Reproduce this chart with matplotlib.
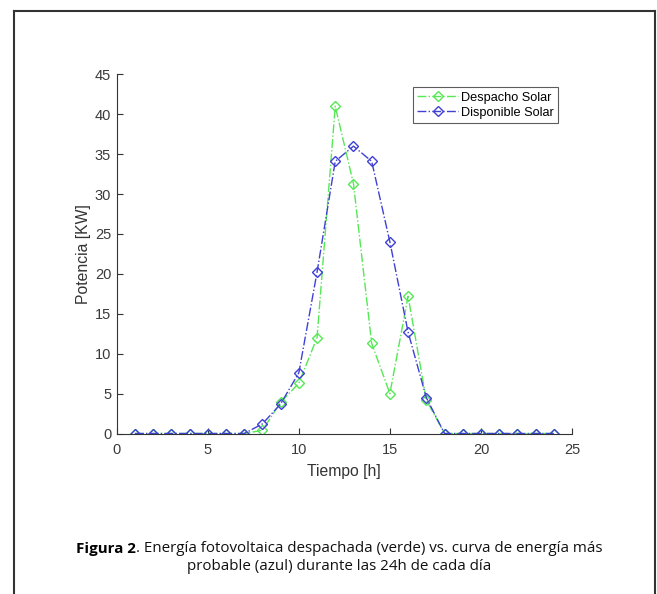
import matplotlib
matplotlib.use("Agg")
import matplotlib.pyplot as plt
from matplotlib.lines import Line2D
from matplotlib.offsetbox import TextArea, HPacker, AnchoredOffsetbox

hours = list(range(1, 25))
despacho = [0, 0, 0, 0, 0, 0, 0, 0.4, 3.9, 6.3, 12.0, 41.0, 31.3, 11.3, 5.0, 17.2, 4.2, 0, 0, 0, 0, 0, 0, 0]
disponible = [0, 0, 0, 0, 0, 0, 0, 1.2, 3.7, 7.6, 20.2, 34.1, 36.0, 34.1, 24.0, 12.7, 4.5, 0, 0, 0, 0, 0, 0, 0]
xticks = [0, 5, 10, 15, 20, 25]
yticks = [0, 5, 10, 15, 20, 25, 30, 35, 40, 45]

W, H = 657, 594
plt.rcParams['font.family'] = ['Liberation Sans', 'DejaVu Sans']
fig = plt.figure(figsize=(W / 100, H / 100), dpi=100)

ax = fig.add_axes([116.7 / W, 1 - 433.5 / H, (572 - 116.7) / W, (433.5 - 74.3) / H])
green = '#55e855'
blue = '#4040d4'
ax.plot(hours, despacho, linestyle='-.', color=green, marker='D', markersize=4.6,
        markerfacecolor='none', markeredgewidth=1.0, linewidth=1.0, label='Despacho Solar')
ax.plot(hours, disponible, linestyle='-.', color=blue, marker='D', markersize=4.6,
        markerfacecolor='none', markeredgewidth=1.0, linewidth=1.0, label='Disponible Solar')

ax.set_xlim(0, 25)
ax.set_ylim(0, 45)
ax.set_xticks(xticks)
ax.set_yticks(yticks)
ax.spines['top'].set_visible(False)
ax.spines['right'].set_visible(False)
for s in ('left', 'bottom'):
    ax.spines[s].set_color('#333333')
    ax.spines[s].set_linewidth(0.8)
ax.tick_params(direction='in', length=4, width=0.8, colors='#333333', labelsize=10.5,
               labelcolor='#3a3a3a')
ax.tick_params(axis='x', pad=7)
ax.tick_params(axis='y', pad=4)
ax.set_xlabel('Tiempo [h]', fontsize=11.3, color='#333333', labelpad=5)
ax.set_ylabel('Potencia [KW]', fontsize=11.3, color='#333333', labelpad=2.5)

leg = ax.legend(loc='upper right', bbox_to_anchor=(1 - 14 / 455.3, 1 - 13 / 359.2), fontsize=9.2,
                frameon=True, fancybox=False, edgecolor='#333333', handlelength=3.2,
                handletextpad=0.2, borderpad=0.35, labelspacing=0.25, borderaxespad=0)
leg.get_frame().set_linewidth(0.8)

# outer frame (no bottom edge)
fc = '#333333'
x0, x1, y0 = 13.5 / W, 655 / W, 1 - 10.5 / H
fig.add_artist(Line2D([x0, x0], [0, y0], color=fc, linewidth=1.5, transform=fig.transFigure))
fig.add_artist(Line2D([x0, x1], [y0, y0], color=fc, linewidth=1.5, transform=fig.transFigure))
fig.add_artist(Line2D([x1, x1], [0, y0], color=fc, linewidth=1.5, transform=fig.transFigure))

cap_font = ['Open Sans', 'DejaVu Sans']
cap_size = 10.9
a = TextArea('Figura 2', textprops=dict(fontsize=cap_size, fontweight='bold', family=cap_font, color='black'))
b = TextArea('. Energía fotovoltaica despachada (verde) vs. curva de energía más',
             textprops=dict(fontsize=cap_size, family=cap_font, color='#111111'))
pack = HPacker(children=[a, b], pad=0, sep=0, align='baseline')
ab = AnchoredOffsetbox(loc='center', child=pack, frameon=False, pad=0,
                       bbox_to_anchor=(339 / W, 1 - 549 / H), bbox_transform=fig.transFigure, borderpad=0)
fig.add_artist(ab)
fig.text(339 / W, 1 - 566 / H, 'probable (azul) durante las 24h de cada día', ha='center', va='center',
         fontsize=cap_size, family=cap_font, color='#111111')

fig.savefig('out.png', dpi=100)
